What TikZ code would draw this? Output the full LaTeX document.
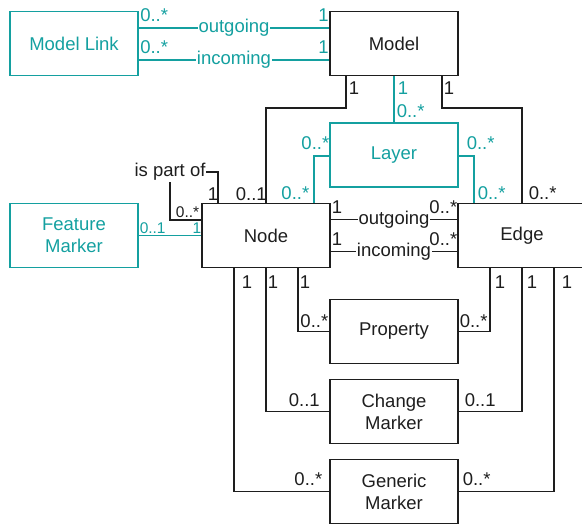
\documentclass[tikz,border=0pt]{standalone}
\usepackage{fontspec}
\setmainfont{Liberation Sans}
\definecolor{tl}{RGB}{20,160,160}
\definecolor{ink}{RGB}{30,30,30}
\begin{document}
\begin{tikzpicture}[x=1pt,y=-1pt,
  font=\fontsize{18.5}{22}\selectfont,
  line width=1.5pt, draw=ink, text=ink,
  box/.style={draw, minimum width=128pt, minimum height=64pt, inner sep=0pt, align=center},
  tbox/.style={box, draw=tl, text=tl},
  mult/.style={inner sep=0pt},
  smult/.style={inner sep=0pt, font=\fontsize{15.5}{18}\selectfont},
  rl/.style={fill=white, inner sep=1pt},
]
\useasboundingbox (0,0) rectangle (582,525);

% classes
\node[tbox] (mlink) at (74,43.5) {Model Link};
\node[box]  (model) at (394,43.5) {Model};
\node[tbox] (layer) at (394,155) {Layer};
\node[tbox] (feat)  at (74,235.5) {Feature\\Marker};
\node[box]  (nd)    at (266,235.5) {Node};
\node[box]  (edge)  at (522,235.5) {Edge};
\node[box]  (prop)  at (394,331.5) {Property};
\node[box]  (chg)   at (394,411.5) {Change\\Marker};
\node[box]  (gen)   at (394,491.5) {Generic\\Marker};

% model links
\draw[tl] (mlink.east |- 0,28) -- node[rl, text=tl] (mlo) {outgoing} (model.west |- 0,28);
\draw[tl] (mlink.east |- 0,60) -- node[rl, text=tl] (mli) {incoming} (model.west |- 0,60);
\node[mult, text=tl, anchor=base west] (m1) at (139.5,21) {0..*};
\node[mult, text=tl, anchor=base east] (m2) at (329.5,21) {1};
\node[mult, text=tl, anchor=base west] (m3) at (139.5,53) {0..*};
\node[mult, text=tl, anchor=base east] (m4) at (329.5,53) {1};

% model to layer, node, edge
\draw[tl] (model.south) -- (layer.north);
\node[mult, text=tl, anchor=base west] (m5) at (397,94) {1};
\node[mult, text=tl, anchor=base west] (m6) at (396,117) {0..*};
\draw (model.south -| 346,0) |- (266,108) -- (nd.north -| 266,0);
\node[mult, anchor=base west] (m7) at (348,94) {1};
\node[mult, anchor=base east] (m8) at (267.5,200) {0..1};
\draw (model.south -| 442,0) |- (522,108) -- (edge.north -| 522,0);
\node[mult, anchor=base west] (m9) at (443,94) {1};
\node[mult, anchor=base west] (m10) at (528,199) {0..*};

% layer to node and edge
\draw[tl] (layer.west |- 0,156) -| (nd.north -| 314,0);
\node[mult, text=tl, anchor=base east] (m11) at (330,149) {0..*};
\node[mult, text=tl, anchor=base east] (m12) at (310,199) {0..*};
\draw[tl] (layer.east |- 0,156) -| (edge.north -| 474,0);
\node[mult, text=tl, anchor=base west] (m13) at (466,149) {0..*};
\node[mult, text=tl, anchor=base west] (m14) at (477,199) {0..*};

% node containment
\coordinate (loop) at (170,172);
\draw (nd.north -| 218,0) |- (loop) |- (nd.west |- 0,220);
\node[rl] (partof) at (loop) {is part of};
\node[mult, anchor=base east] (m15) at (219,200) {1};
\node[smult, anchor=base east] (m16) at (200,217) {0..*};

% feature marker
\draw[tl] (feat.east) -- (nd.west);
\node[smult, text=tl, anchor=base west] (m17) at (139,233) {0..1};
\node[smult, text=tl, anchor=base east] (m18) at (202,233) {1};

% node to edge
\draw (nd.east |- 0,219.5) -- node[rl] (neo) {outgoing} (edge.west |- 0,219.5);
\draw (nd.east |- 0,251.5) -- node[rl] (nei) {incoming} (edge.west |- 0,251.5);
\node[mult, anchor=base west] (m19) at (331,213) {1};
\node[mult, anchor=base east] (m20) at (458,213) {0..*};
\node[mult, anchor=base west] (m21) at (331,245) {1};
\node[mult, anchor=base east] (m22) at (458,245) {0..*};

% property and markers
\draw (nd.south -| 298,0) |- (prop.west);
\draw (edge.south -| 490,0) |- (prop.east);
\draw (nd.south -| 266,0) |- (chg.west);
\draw (edge.south -| 522,0) |- (chg.east);
\draw (nd.south -| 234,0) |- (gen.west);
\draw (edge.south -| 554,0) |- (gen.east);
\node[mult, anchor=base west] (b1) at (241,288) {1};
\node[mult, anchor=base west] (b2) at (267,288) {1};
\node[mult, anchor=base west] (b3) at (299,288) {1};
\node[mult, anchor=base west] (b4) at (494,288) {1};
\node[mult, anchor=base west] (b5) at (526,288) {1};
\node[mult, anchor=base west] (b6) at (561,288) {1};
\node[mult, anchor=base east] (p1) at (329,327) {0..*};
\node[mult, anchor=base west] (p2) at (459,327) {0..*};
\node[mult, anchor=base east] (c1) at (320.5,406) {0..1};
\node[mult, anchor=base west] (c2) at (464,406) {0..1};
\node[mult, anchor=base east] (g1) at (323,485) {0..*};
\node[mult, anchor=base west] (g2) at (462,485) {0..*};
\end{tikzpicture}
\end{document}
